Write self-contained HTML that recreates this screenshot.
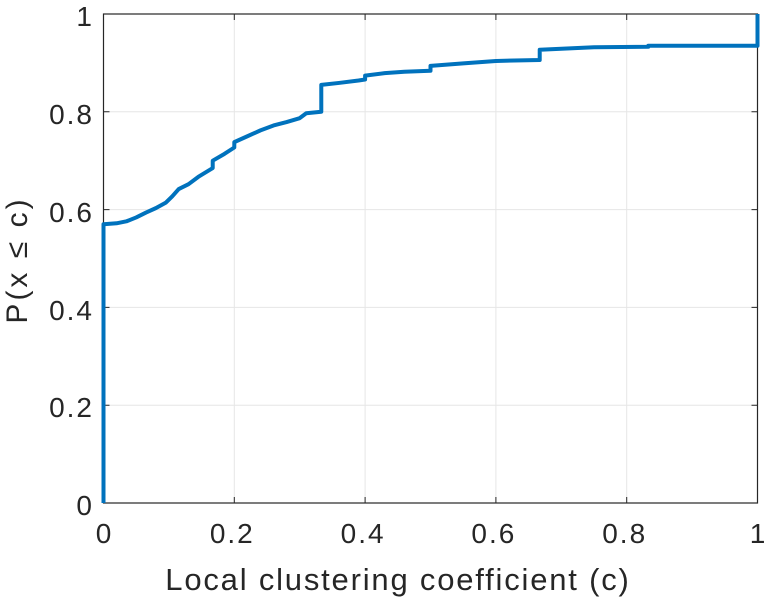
<!DOCTYPE html>
<html><head><meta charset="utf-8"><style>
html,body{margin:0;padding:0;background:#fff;}
svg{display:block;font-family:"Liberation Sans",sans-serif;}
</style></head><body>
<svg width="766" height="600" viewBox="0 0 766 600">
<g stroke="#e6e6e6" stroke-width="1">
<line x1="234.3" y1="14" x2="234.3" y2="503"/><line x1="365.1" y1="14" x2="365.1" y2="503"/>
<line x1="495.9" y1="14" x2="495.9" y2="503"/><line x1="626.7" y1="14" x2="626.7" y2="503"/>
<line x1="103.5" y1="405.2" x2="757.5" y2="405.2"/><line x1="103.5" y1="307.4" x2="757.5" y2="307.4"/>
<line x1="103.5" y1="209.6" x2="757.5" y2="209.6"/><line x1="103.5" y1="111.8" x2="757.5" y2="111.8"/>
</g>
<g stroke="#262626" stroke-width="1.2" fill="none">
<rect x="103.5" y="14" width="654" height="489"/>
<g stroke-width="1">
<path d="M234.3 503v-6M365.1 503v-6M495.9 503v-6M626.7 503v-6M234.3 14v6M365.1 14v6M495.9 14v6M626.7 14v6"/>
<path d="M103.5 405.2h6M103.5 307.4h6M103.5 209.6h6M103.5 111.8h6M757.5 405.2h-6M757.5 307.4h-6M757.5 209.6h-6M757.5 111.8h-6"/>
</g></g>
<g transform="translate(103.5,503) scale(654,-489)">
<path fill="none" stroke="#0072bd" stroke-width="4" stroke-linejoin="round" vector-effect="non-scaling-stroke" d="M0,0 V0.57 L0.02,0.572 L0.035,0.576 L0.05,0.584 L0.065,0.594 L0.08,0.603 L0.095,0.614 L0.105,0.627 L0.115,0.642 L0.13,0.652 L0.145,0.667 L0.167,0.685 V0.70 L0.185,0.714 L0.2,0.727 V0.738 L0.22,0.75 L0.24,0.762 L0.26,0.772 L0.28,0.779 L0.3,0.787 L0.31,0.797 L0.333,0.80 V0.855 L0.36,0.859 L0.39,0.864 L0.4,0.866 V0.874 L0.43,0.879 L0.46,0.882 L0.5,0.884 V0.894 L0.55,0.899 L0.6,0.904 L0.667,0.906 V0.927 L0.75,0.932 L0.833,0.933 V0.935 H1 V1"/>
</g>
<g fill="#262626" font-size="28" letter-spacing="2" text-anchor="middle">
<text x="104.5" y="543">0</text><text x="232.3" y="543">0.2</text><text x="363.1" y="543">0.4</text>
<text x="493.9" y="543">0.6</text><text x="624.7" y="543">0.8</text><text x="758.5" y="543">1</text>
</g>
<g fill="#262626" font-size="28" letter-spacing="2" text-anchor="end">
<text x="94" y="515">0</text><text x="94" y="417">0.2</text><text x="94" y="320">0.4</text>
<text x="94" y="222">0.6</text><text x="94" y="124">0.8</text><text x="94" y="26">1</text>
</g>
<text x="398" y="590" font-size="31" letter-spacing="1.8" fill="#262626" text-anchor="middle">Local clustering coefficient (c)</text>
<text transform="translate(27,260) rotate(-90)" font-size="30" letter-spacing="3" fill="#262626" text-anchor="middle">P(x ≤ c)</text>
</svg>
</body></html>
